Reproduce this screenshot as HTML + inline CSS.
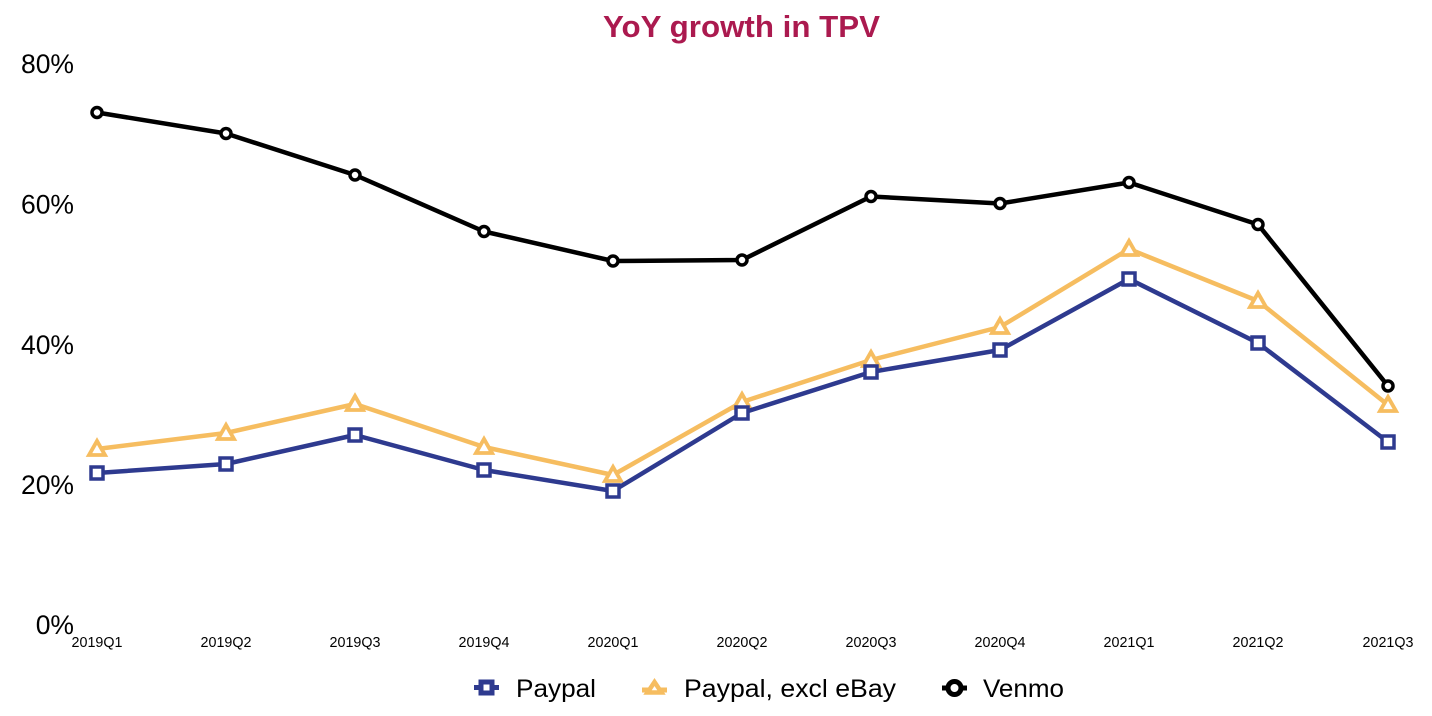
<!DOCTYPE html>
<html><head><meta charset="utf-8"><style>
html,body{margin:0;padding:0;background:#fff;}
svg{display:block;font-family:"Liberation Sans",Arial,sans-serif;}
</style></head><body>
<svg width="1432" height="716" viewBox="0 0 1432 716" xmlns="http://www.w3.org/2000/svg">
<rect width="1432" height="716" fill="#fff"/>
<text x="603" y="37" font-size="30.5" font-weight="bold" fill="#ab1a4f" textLength="277" lengthAdjust="spacingAndGlyphs">YoY growth in TPV</text>
<g font-size="26.5" fill="#000" text-anchor="end">
<text x="74" y="73">80%</text>
<text x="74" y="213.5">60%</text>
<text x="74" y="354">40%</text>
<text x="74" y="494">20%</text>
<text x="74" y="634">0%</text>
</g>
<g font-size="14.3" fill="#000" text-anchor="middle">
<text x="97" y="647">2019Q1</text>
<text x="226" y="647">2019Q2</text>
<text x="355" y="647">2019Q3</text>
<text x="484" y="647">2019Q4</text>
<text x="613" y="647">2020Q1</text>
<text x="742" y="647">2020Q2</text>
<text x="871" y="647">2020Q3</text>
<text x="1000" y="647">2020Q4</text>
<text x="1129" y="647">2021Q1</text>
<text x="1258" y="647">2021Q2</text>
<text x="1388" y="647">2021Q3</text>
</g>
<!-- Paypal excl eBay -->
<polyline fill="none" stroke="#f6bd60" stroke-width="4.5" stroke-linejoin="round" points="97,449 226,433 355,404 484,447 613,475 742,402 871,360 1000,327 1129,249 1258,301 1388,405"/>
<g fill="#fff" stroke="#f6bd60" stroke-width="3.8" stroke-linejoin="miter">
<polygon points="97,441 105,455 89,455"/>
<polygon points="226,425 234,439 218,439"/>
<polygon points="355,396 363,410 347,410"/>
<polygon points="484,439 492,453 476,453"/>
<polygon points="613,467 621,481 605,481"/>
<polygon points="742,394 750,408 734,408"/>
<polygon points="871,352 879,366 863,366"/>
<polygon points="1000,319 1008,333 992,333"/>
<polygon points="1129,241 1137,255 1121,255"/>
<polygon points="1258,293 1266,307 1250,307"/>
<polygon points="1388,397 1396,411 1380,411"/>
</g>
<!-- Paypal -->
<polyline fill="none" stroke="#2e3a8f" stroke-width="4.5" stroke-linejoin="round" points="97,473 226,464 355,435 484,470 613,491 742,413 871,372 1000,350 1129,279 1258,343 1388,442"/>
<g fill="#fff" stroke="#2e3a8f" stroke-width="3.5">
<rect x="91" y="467" width="12" height="12"/>
<rect x="220" y="458" width="12" height="12"/>
<rect x="349" y="429" width="12" height="12"/>
<rect x="478" y="464" width="12" height="12"/>
<rect x="607" y="485" width="12" height="12"/>
<rect x="736" y="407" width="12" height="12"/>
<rect x="865" y="366" width="12" height="12"/>
<rect x="994" y="344" width="12" height="12"/>
<rect x="1123" y="273" width="12" height="12"/>
<rect x="1252" y="337" width="12" height="12"/>
<rect x="1382" y="436" width="12" height="12"/>
</g>
<!-- Venmo -->
<polyline fill="none" stroke="#000" stroke-width="4.5" stroke-linejoin="round" points="97,112.5 226,133.5 355,175 484,231.5 613,261 742,260 871,196.5 1000,203.5 1129,182.5 1258,224.5 1388,386"/>
<g fill="#fff" stroke="#000" stroke-width="3.5">
<circle cx="97" cy="112.5" r="5"/>
<circle cx="226" cy="133.5" r="5"/>
<circle cx="355" cy="175" r="5"/>
<circle cx="484" cy="231.5" r="5"/>
<circle cx="613" cy="261" r="5"/>
<circle cx="742" cy="260" r="5"/>
<circle cx="871" cy="196.5" r="5"/>
<circle cx="1000" cy="203.5" r="5"/>
<circle cx="1129" cy="182.5" r="5"/>
<circle cx="1258" cy="224.5" r="5"/>
<circle cx="1388" cy="386" r="5"/>
</g>
<!-- Legend -->
<line x1="474" y1="687.5" x2="499" y2="687.5" stroke="#2e3a8f" stroke-width="5"/>
<rect x="481" y="682" width="11" height="11" fill="#fff" stroke="#2e3a8f" stroke-width="5"/>
<text x="516" y="697" font-size="25" fill="#000" textLength="80" lengthAdjust="spacingAndGlyphs">Paypal</text>
<line x1="642" y1="690" x2="667" y2="690" stroke="#f6bd60" stroke-width="5"/>
<polygon points="654.5,682 661.5,692.5 647.5,692.5" fill="#fff" stroke="#f6bd60" stroke-width="4.5"/>
<text x="684" y="697" font-size="25" fill="#000" textLength="212" lengthAdjust="spacingAndGlyphs">Paypal, excl eBay</text>
<line x1="942" y1="688" x2="967" y2="688" stroke="#000" stroke-width="5"/>
<circle cx="954.5" cy="688" r="6.5" fill="#fff" stroke="#000" stroke-width="5"/>
<text x="983" y="697" font-size="25" fill="#000" textLength="81" lengthAdjust="spacingAndGlyphs">Venmo</text>
</svg>
</body></html>
